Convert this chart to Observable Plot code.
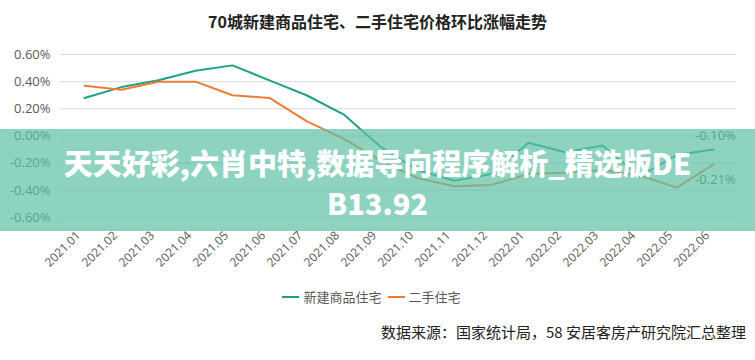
<!DOCTYPE html>
<html>
<head>
<meta charset="utf-8">
<script src="https://cdn.jsdelivr.net/npm/d3@7"></script>
<script src="https://cdn.jsdelivr.net/npm/@observablehq/plot@0.6"></script>
<style>
  html, body { margin: 0; padding: 0; background: #fff; }
  #wrap { position: relative; width: 755px; height: 360px; overflow: hidden; background: #fff;
          font-family: "Open Sans", "Noto Sans CJK SC", sans-serif; }
  #title { position: absolute; top: 9px; left: 0; width: 755px; text-align: center;
           font: bold 16px "Noto Sans CJK SC", sans-serif; color: #222; line-height: 24px; }
  #chart { position: absolute; top: 40px; left: 0; }
  #legend { position: absolute; top: 287px; left: -6px; width: 755px; display: flex; justify-content: center;
            align-items: center; font: 13px "Noto Sans CJK SC", sans-serif; color: #595959; }
  #legend .item { display: flex; align-items: center; margin: 0 3px; }
  #legend .sw { width: 17px; height: 2px; margin-right: 4px; }
  #caption { position: absolute; top: 321px; right: 9px; font: 15px "Noto Sans CJK SC", sans-serif; color: #222; }
  #banner { position: absolute; top: 129px; left: 0; width: 755px; height: 102px;
            background: rgba(92,192,165,0.7); color: #fff; text-align: center;
            font: 900 29px "Noto Sans CJK SC", sans-serif; line-height: 40px; padding-top: 13px; box-sizing: border-box; }
</style>
</head>
<body>
<div id="wrap">
  <div id="title">70城新建商品住宅、二手住宅价格环比涨幅走势</div>
  <div id="chart"></div>
  <div id="legend"></div>
  <div id="caption">数据来源：国家统计局，58 安居客房产研究院汇总整理</div>
  <div id="banner">天天好彩,六肖中特,数据导向程序解析_精选版DE<br>B13.92</div>
</div>
<script>
const months = ["2021.01","2021.02","2021.03","2021.04","2021.05","2021.06","2021.07","2021.08","2021.09",
                "2021.10","2021.11","2021.12","2022.01","2022.02","2022.03","2022.04","2022.05","2022.06"];
const seriesNames = ["新建商品住宅", "二手住宅"];
const newHome    = [0.28, 0.36, 0.41, 0.48, 0.52, 0.41, 0.30, 0.16, -0.08, -0.25, -0.33, -0.28, -0.05, -0.12, -0.07, -0.30, -0.14, -0.10];
const secondHand = [0.37, 0.34, 0.40, 0.40, 0.30, 0.28, 0.11, -0.02, -0.18, -0.31, -0.37, -0.36, -0.28, -0.27, -0.25, -0.29, -0.38, -0.21];
const yTicks = [-0.6, -0.4, -0.2, 0, 0.2, 0.4, 0.6];
const colors = ["#1fa187", "#ed7d31"];

const data = months.flatMap((m, i) => [
  {month: m, series: seriesNames[0], value: newHome[i]},
  {month: m, series: seriesNames[1], value: secondHand[i]}
]);
const last = [
  {month: months[months.length - 1], series: seriesNames[0], value: newHome[newHome.length - 1]},
  {month: months[months.length - 1], series: seriesNames[1], value: secondHand[secondHand.length - 1]}
];
const fmt = d => d.toFixed(2) + "%";

const chart = Plot.plot({
  width: 755, height: 240,
  marginTop: 14, marginBottom: 63, marginLeft: 60, marginRight: 19,
  style: {fontFamily: '"Open Sans", "Noto Sans CJK SC", sans-serif', fontSize: "13px", color: "#595959", background: "transparent"},
  x: {type: "point", domain: months, padding: 0.5, label: null},
  y: {domain: [-0.6, 0.6], label: null},
  color: {domain: seriesNames, range: colors},
  marks: [
    Plot.gridY(yTicks, {stroke: "#d9d9d9", strokeOpacity: 1, strokeWidth: 1}),
    Plot.axisY(yTicks, {tickSize: 0, tickPadding: 10, tickFormat: fmt, label: null, fontSize: 13, fill: "#595959"}),
    Plot.axisX(months, {tickSize: 0, tickPadding: 16, dx: -6, tickRotate: -45, label: null, fontSize: 12, fill: "#595959"}),
    Plot.lineY(data, {x: "month", y: "value", stroke: "series", strokeWidth: 2}),
    Plot.text(last.slice(0, 1), {x: "month", y: "value", text: d => fmt(d.value), dy: -14, dx: 2, fill: "#595959", fontSize: 13}),
    Plot.text(last.slice(1), {x: "month", y: "value", text: d => fmt(d.value), dy: 15, dx: 2, fill: "#595959", fontSize: 13})
  ]
});
document.getElementById("chart").appendChild(chart);

const legend = document.getElementById("legend");
seriesNames.forEach((s, i) => {
  const it = document.createElement("div");
  it.className = "item";
  const sw = document.createElement("span");
  sw.className = "sw";
  sw.style.background = colors[i];
  const t = document.createElement("span");
  t.textContent = s;
  it.appendChild(sw); it.appendChild(t);
  legend.appendChild(it);
});
</script>
</body>
</html>
